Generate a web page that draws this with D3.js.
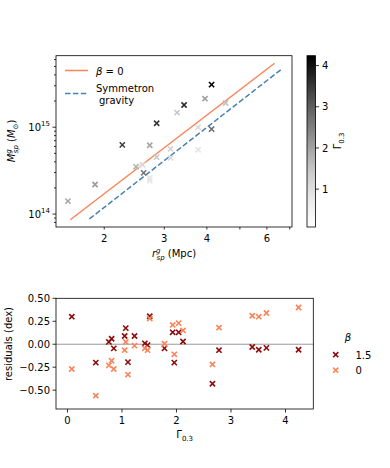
<!DOCTYPE html>
<html>
<head>
<meta charset="utf-8">
<script src="https://cdn.jsdelivr.net/npm/d3@7"></script>
<style>
  body { margin: 0; background: #fff; }
  svg { font-family: "DejaVu Sans", sans-serif; }
  text { fill: #000; }
</style>
</head>
<body>
<script>
// cluster properties, sorted by Gamma_0.3
var gamma = [0.08, 0.52, 0.76, 0.81, 0.85, 1.05, 1.07, 1.11, 1.23, 1.42, 1.47, 1.51,
             1.78, 1.93, 1.96, 2.04, 2.12, 2.66, 2.78, 3.39, 3.51, 3.65, 4.24];
// splashback radius (Mpc)
var rsp = [3.27, 2.53, 2.72, 2.72, 3.77, 3.77, 3.13, 2.59, 3.13, 2.85, 3.27, 4.54,
           2.48, 1.565, 2.72, 3.95, 1.88, 2.61, 4.13, 2.26, 2.85, 3.43, 4.13];
// splashback mass (Msun)
var msp = [2.15e14, 3.6e14, 2.42e14, 2.6e14, 5.5e14, 1.0e15, 4.43e14, 3.69e14, 5.62e14, 4.52e14, 1.47e15, 1.9e15,
           3.5e14, 1.41e14, 6.2e14, 2.13e15, 2.19e14, 2.98e14, 9.5e14, 6.26e14, 1.11e15, 1.80e15, 3.09e15];
// residuals (dex) for beta = 1.5 and beta = 0
var res15 = [0.30, -0.20, 0.025, 0.06, -0.045, 0.09, 0.175, -0.195, 0.09, 0.01, -0.01, 0.305,
             -0.045, 0.13, -0.20, 0.13, 0.03, -0.43, -0.065, -0.03, -0.06, -0.04, -0.06];
var res0 = [-0.27, -0.56, -0.23, -0.18, -0.27, -0.065, 0.025, -0.33, -0.015, -0.045, -0.065, 0.28,
            0.005, 0.21, -0.11, 0.23, 0.15, -0.22, 0.18, 0.31, 0.30, 0.34, 0.40];

// model lines (endpoints)
var lineBeta0 = [[1.59, 8.6e13], [6.32, 5.44e15]];
var lineSymm = [[1.81, 8.8e13], [6.60, 4.6e15]];

var xTickVals = [2, 3, 4, 5, 6, 7];
var xTickLabels = ["2", "3", "4", "", "6", ""];
var cbarTicks = [1, 2, 3, 4];
var resYTicks = [0.5, 0.25, 0, -0.25, -0.5];
var resXTicks = [0, 1, 2, 3, 4];

var colBeta15 = "#8c0a0a",
    colBeta0 = "#fa8459",
    colSymm = "#4682b4";

var svg = d3.select("body").append("svg")
    .attr("width", 390)
    .attr("height", 468);

// ---------- top panel ----------
var x = d3.scaleLog().domain([1.444, 7.11]).range([56, 292]);
var y = d3.scaleLog().domain([7.1e13, 6.65e15]).range([227, 55.7]);
var cval = d3.scaleLinear().domain([0.08, 4.24]).range([0, 1]);

var topG = svg.append("g");

// minor y ticks
var yMinor = [];
[1e13, 1e14, 1e15].forEach(function(d) {
    for (var k = 1; k < 10; k++) {
        var v = d * k;
        if (v >= y.domain()[0] && v <= y.domain()[1]) yMinor.push(v);
    }
});
topG.selectAll(".yminor").data(yMinor).enter().append("line")
    .attr("x1", 56).attr("x2", function(d) {
        return (d === 1e14 || d === 1e15) ? 52.5 : 54;
    })
    .attr("y1", function(d) { return y(d); })
    .attr("y2", function(d) { return y(d); })
    .attr("stroke", "#000").attr("stroke-width", 0.8);

// major y labels
var yl = topG.selectAll(".ylab").data([1e14, 1e15]).enter().append("text")
    .attr("x", 50)
    .attr("y", function(d) { return y(d) + 4; })
    .attr("text-anchor", "end")
    .style("font-size", "10px");
yl.append("tspan").text("10");
yl.append("tspan").attr("dy", -5).style("font-size", "7px")
    .text(function(d) { return Math.round(Math.log10(d)); });

// x ticks
topG.selectAll(".xt").data(xTickVals).enter().append("line")
    .attr("x1", function(d) { return x(d); })
    .attr("x2", function(d) { return x(d); })
    .attr("y1", 227).attr("y2", 229.5)
    .attr("stroke", "#000").attr("stroke-width", 0.8);
topG.selectAll(".xl").data(xTickVals).enter().append("text")
    .attr("x", function(d) { return x(d); })
    .attr("y", 242)
    .attr("text-anchor", "middle")
    .style("font-size", "10px")
    .text(function(d, i) { return xTickLabels[i]; });

// axis labels
var xlab = topG.append("text")
    .attr("x", 174).attr("y", 257)
    .attr("text-anchor", "middle")
    .style("font-size", "10px");
xlab.append("tspan").style("font-style", "italic").text("r");
xlab.append("tspan").attr("dy", -4).style("font-size", "7px").style("font-style", "italic").text("g");
xlab.append("tspan").attr("dx", -4).attr("dy", 7).style("font-size", "7px").style("font-style", "italic").text("sp");
xlab.append("tspan").attr("dy", -3).text(" (Mpc)");

var ylab = topG.append("text")
    .attr("transform", "translate(15,141) rotate(-90)")
    .attr("text-anchor", "middle")
    .style("font-size", "10px");
ylab.append("tspan").style("font-style", "italic").text("M");
ylab.append("tspan").attr("dy", -4).style("font-size", "7px").style("font-style", "italic").text("g");
ylab.append("tspan").attr("dx", -4).attr("dy", 7).style("font-size", "7px").style("font-style", "italic").text("sp");
ylab.append("tspan").attr("dy", -3).text(" (");
ylab.append("tspan").style("font-style", "italic").text("M");
ylab.append("tspan").attr("dy", 3).style("font-size", "7px").text("\u2299");
ylab.append("tspan").attr("dy", -3).text(")");

// model lines
var line = d3.line()
    .x(function(d) { return x(d[0]); })
    .y(function(d) { return y(d[1]); });
topG.append("path").datum(lineBeta0)
    .attr("d", line).attr("fill", "none")
    .attr("stroke", colBeta0).attr("stroke-width", 1.5);
topG.append("path").datum(lineSymm)
    .attr("d", line).attr("fill", "none")
    .attr("stroke", colSymm).attr("stroke-width", 1.5)
    .attr("stroke-dasharray", "5.5,2.4");

// cross marker
function cross(g, cx, cy, col) {
    var s = 2.6;
    g.append("path")
        .attr("d", "M" + (cx - s) + "," + (cy - s) + "L" + (cx + s) + "," + (cy + s) +
                   "M" + (cx - s) + "," + (cy + s) + "L" + (cx + s) + "," + (cy - s))
        .attr("stroke", col).attr("stroke-width", 1.6).attr("fill", "none");
}

var pts = topG.append("g");
gamma.forEach(function(gv, i) {
    cross(pts, x(rsp[i]), y(msp[i]), d3.interpolateGreys(cval(gv)));
});

// legend
topG.append("line").attr("x1", 65).attr("x2", 88).attr("y1", 70.5).attr("y2", 70.5)
    .attr("stroke", colBeta0).attr("stroke-width", 1.5);
var lb = topG.append("text").attr("x", 96).attr("y", 74.5).style("font-size", "10px");
lb.append("tspan").style("font-style", "italic").text("\u03b2");
lb.append("tspan").text(" = 0");
topG.append("line").attr("x1", 65).attr("x2", 88).attr("y1", 93.5).attr("y2", 93.5)
    .attr("stroke", colSymm).attr("stroke-width", 1.5).attr("stroke-dasharray", "5.5,2.4");
topG.append("text").attr("x", 96).attr("y", 91.5).style("font-size", "10px").text("Symmetron");
topG.append("text").attr("x", 99).attr("y", 104).style("font-size", "10px").text("gravity");

// frame
topG.append("rect").attr("x", 56).attr("y", 55.7).attr("width", 236).attr("height", 171.3)
    .attr("fill", "none").attr("stroke", "#000").attr("stroke-width", 0.8);

// colorbar
var defs = svg.append("defs");
var grad = defs.append("linearGradient").attr("id", "greys")
    .attr("x1", 0).attr("y1", 1).attr("x2", 0).attr("y2", 0);
d3.range(0, 1.0001, 0.05).forEach(function(t) {
    grad.append("stop").attr("offset", t).attr("stop-color", d3.interpolateGreys(t));
});
var cb = d3.scaleLinear().domain([0.08, 4.24]).range([227, 55.7]);
svg.append("rect").attr("x", 307).attr("y", 55.7).attr("width", 8.5).attr("height", 171.3)
    .attr("fill", "url(#greys)").attr("stroke", "#000").attr("stroke-width", 0.8);
svg.selectAll(".cbt").data(cbarTicks).enter().append("line")
    .attr("x1", 315.5).attr("x2", 319)
    .attr("y1", function(d) { return cb(d); })
    .attr("y2", function(d) { return cb(d); })
    .attr("stroke", "#000").attr("stroke-width", 0.8);
svg.selectAll(".cbl").data(cbarTicks).enter().append("text")
    .attr("x", 322)
    .attr("y", function(d) { return cb(d) + 3.7; })
    .style("font-size", "10px")
    .text(function(d) { return d; });
var cbl = svg.append("text")
    .attr("transform", "translate(341,141) rotate(-90)")
    .attr("text-anchor", "middle")
    .style("font-size", "10px");
cbl.append("tspan").text("\u0393");
cbl.append("tspan").attr("dy", 3).style("font-size", "7px").text("0.3");

// ---------- bottom panel ----------
var xr = d3.scaleLinear().domain([-0.21, 4.51]).range([56, 313.3]);
var yr = d3.scaleLinear().domain([-0.705, 0.5]).range([409, 298.3]);

var bot = svg.append("g");

bot.append("line")
    .attr("x1", 56).attr("x2", 313.3)
    .attr("y1", yr(0)).attr("y2", yr(0))
    .attr("stroke", "#999").attr("stroke-width", 1);

var ptsr = bot.append("g");
gamma.forEach(function(gv, i) {
    cross(ptsr, xr(gv), yr(res15[i]), colBeta15);
});
gamma.forEach(function(gv, i) {
    cross(ptsr, xr(gv), yr(res0[i]), colBeta0);
});

bot.append("rect").attr("x", 56).attr("y", 298.3).attr("width", 257.3).attr("height", 110.7)
    .attr("fill", "none").attr("stroke", "#000").attr("stroke-width", 0.8);

// y axis
bot.selectAll(".ryt").data(resYTicks).enter().append("line")
    .attr("x1", 52.5).attr("x2", 56)
    .attr("y1", function(d) { return yr(d); })
    .attr("y2", function(d) { return yr(d); })
    .attr("stroke", "#000").attr("stroke-width", 0.8);
bot.selectAll(".ryl").data(resYTicks).enter().append("text")
    .attr("x", 50)
    .attr("y", function(d) { return yr(d) + 3.7; })
    .attr("text-anchor", "end")
    .style("font-size", "10px")
    .text(function(d) { return d3.format(".2f")(d).replace("-", "\u2212"); });
bot.append("text")
    .attr("transform", "translate(12,344) rotate(-90)")
    .attr("text-anchor", "middle")
    .style("font-size", "10px")
    .text("residuals (dex)");

// x axis
bot.selectAll(".rxt").data(resXTicks).enter().append("line")
    .attr("x1", function(d) { return xr(d); })
    .attr("x2", function(d) { return xr(d); })
    .attr("y1", 409).attr("y2", 412.5)
    .attr("stroke", "#000").attr("stroke-width", 0.8);
bot.selectAll(".rxl").data(resXTicks).enter().append("text")
    .attr("x", function(d) { return xr(d); })
    .attr("y", 424)
    .attr("text-anchor", "middle")
    .style("font-size", "10px")
    .text(function(d) { return d; });
var rxl = bot.append("text")
    .attr("x", 184.7).attr("y", 438)
    .attr("text-anchor", "middle")
    .style("font-size", "10px");
rxl.append("tspan").text("\u0393");
rxl.append("tspan").attr("dy", 3).style("font-size", "7px").text("0.3");

// legend
var leg = svg.append("g");
leg.append("text").attr("x", 348).attr("y", 340.5).attr("text-anchor", "middle")
    .style("font-size", "10px").style("font-style", "italic").text("\u03b2");
cross(leg, 335.7, 354.7, colBeta15);
cross(leg, 335.7, 370.2, colBeta0);
leg.append("text").attr("x", 355.5).attr("y", 358.5).style("font-size", "10px").text("1.5");
leg.append("text").attr("x", 355.5).attr("y", 374).style("font-size", "10px").text("0");
</script>
</body>
</html>
